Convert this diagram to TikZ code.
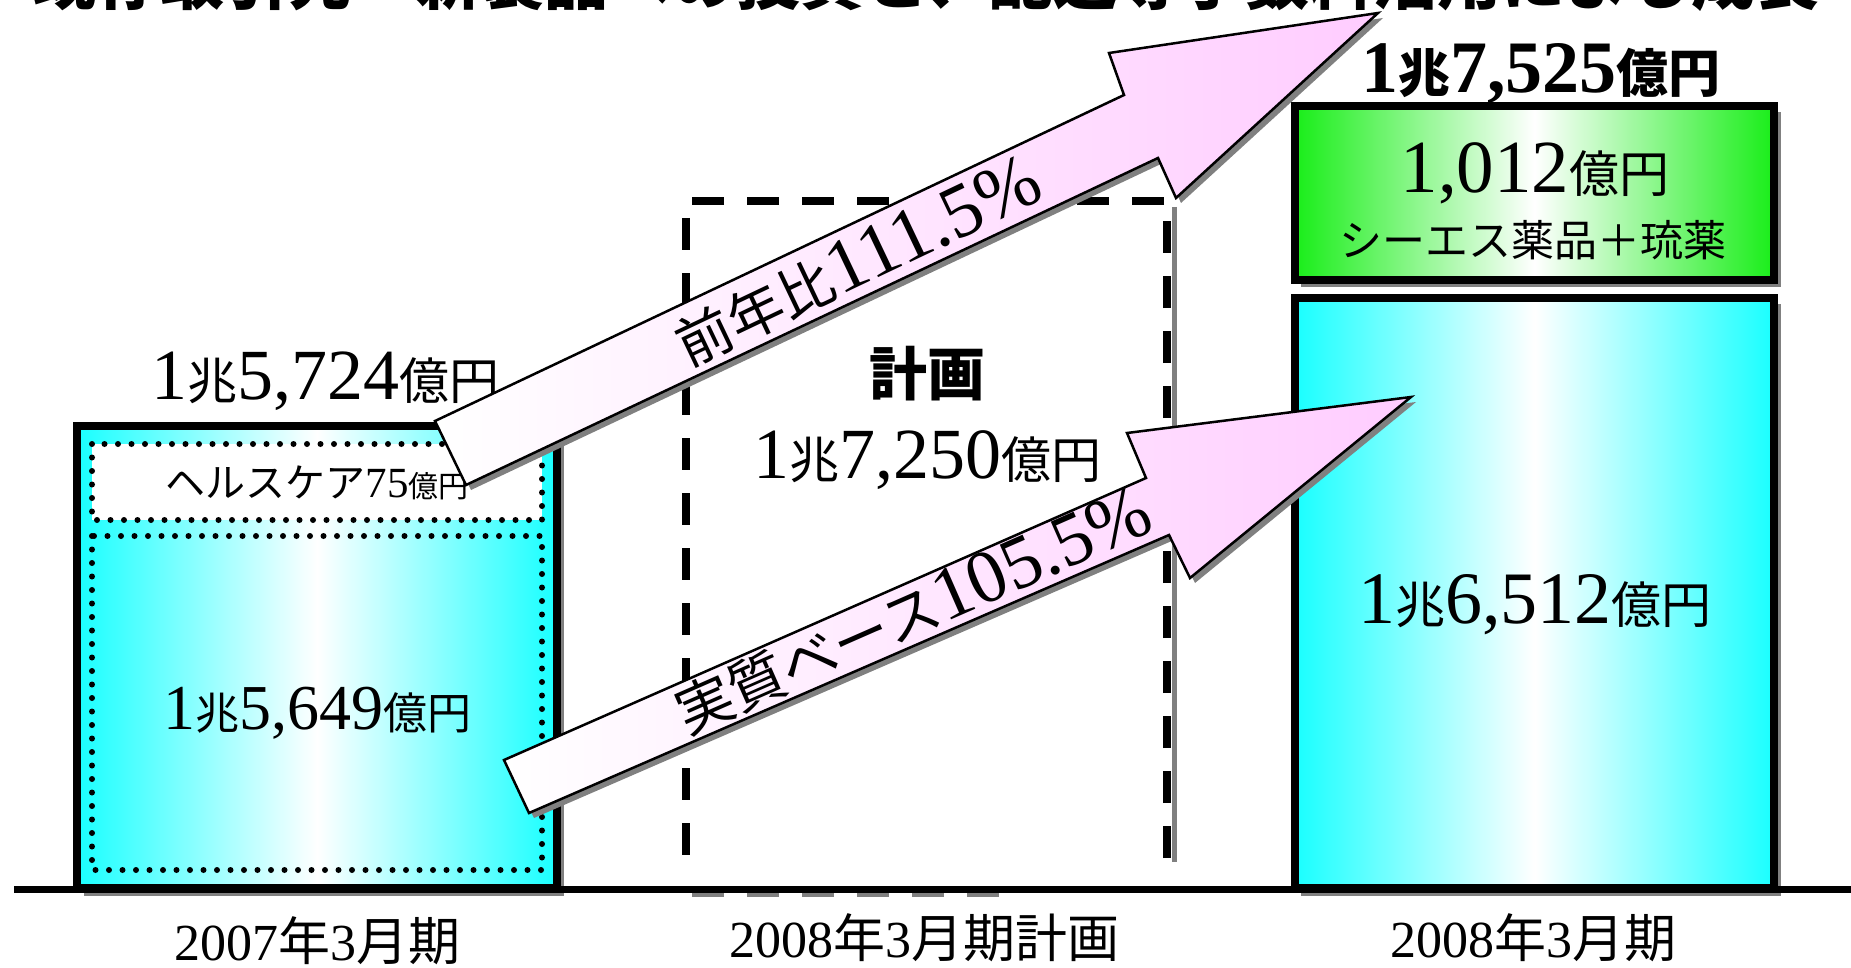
\documentclass[tikz,border=0pt]{standalone}
\usepackage{fontspec}
\setmainfont{Liberation Serif}
\newfontfamily\jp{Noto Sans CJK JP}
\definecolor{cyanA}{RGB}{25,255,255}
\definecolor{greenA}{RGB}{25,238,25}
\definecolor{pinkA}{RGB}{255,204,255}
\definecolor{shadowgray}{RGB}{128,128,128}
\newcommand\fs[1]{\fontsize{#1}{#1}\selectfont}
\newcommand\cj[2]{{\fontsize{#1}{#1}\selectfont\jp #2}}
\begin{document}
\begin{tikzpicture}[x=1pt,y=-1pt,
  lbl/.style={anchor=base,inner sep=0pt},
  barline/.style={draw=black,line width=8pt},
  shade/.style={fill=shadowgray,draw=none},
  cyanfill/.style={left color=cyanA,right color=cyanA,middle color=white},
  greenfill/.style={left color=greenA,right color=greenA,middle color=white},
  dots/.style={draw=black,line width=6pt,line cap=round,dash pattern=on 0pt off 13.5pt},
  planline/.style={draw=black,line width=8pt,dash pattern=on 32pt off 23pt},
  arrowbody/.style={draw=black,line width=2.5pt,line join=miter,left color=white,right color=pinkA},
  arrowtext/.style={anchor=center,inner sep=0pt}]
\useasboundingbox (0,0) rectangle (1851,968);

% title (cut off at the top edge)
\node[anchor=base west,inner sep=0pt,font={\jp\bfseries\fontsize{64}{64}\selectfont}] (title) at (32,5) {既存取引先・新製品への投資と、配送等手数料活用による成長};

% left bar 2007
\fill[shade] (84,433) rectangle (564,896);
\path[barline,cyanfill] (77,426) rectangle (557,888);
\path[dots,fill=white] (92,444) rectangle (542,520);
\path[dots] (92,536) rectangle (542,870);

% right bars 2008
\fill[shade] (1301,112) rectangle (1781,287);
\path[barline,greenfill] (1295,106) rectangle (1774,280);
\fill[shade] (1301,304) rectangle (1781,896);
\path[barline,cyanfill] (1295,298) rectangle (1774,888);

% plan box (dashed)
\draw[shadowgray,line width=5pt] (1174,207) -- (1174,862);
\draw[shadowgray,line width=5pt,dash pattern=on 32pt off 23pt] (692,894) -- (1010,894);
\path[planline] (1167,858) -- (1167,201) -- (686,201) -- (686,878);

% ground line
\draw[line width=7.5pt] (14,889.5) -- (1851,889.5);

% labels
\node[lbl] (v5724) at (325,399) {\fs{72}1\cj{50}{兆}5,724\cj{50}{億円}};
\node[lbl] (hc) at (317,497) {\cj{40}{ヘルスケア}\fs{43}75\cj{30}{億円}};
\node[lbl] (v5649) at (317,729) {\fs{64}1\cj{44}{兆}5,649\cj{44}{億円}};
\node[lbl,font={\jp\bfseries\fontsize{58}{58}\selectfont}] (plan) at (927,395) {計画};
\node[lbl] (v7250) at (927,478) {\fs{72}1\cj{50}{兆}7,250\cj{50}{億円}};
\node[lbl,font=\bfseries] (v7525) at (1541,93) {\fs{74}1\cj{52}{兆}7,525\cj{52}{億円}};
\node[lbl] (v1012) at (1535,193) {\fs{75}1,012\cj{50}{億円}};
\node[lbl] (cs) at (1533,256) {\cj{43}{シーエス薬品＋琉薬}};
\node[lbl] (v6512) at (1535,623) {\fs{74}1\cj{50}{兆}6,512\cj{50}{億円}};
\node[lbl] (y2007) at (317,960) {\fs{52}2007\cj{52}{年}3\cj{52}{月期}};
\node[lbl] (y2008p) at (924,957) {\fs{52}2008\cj{52}{年}3\cj{52}{月期計画}};
\node[lbl] (y2008) at (1533,957) {\fs{52}2008\cj{52}{年}3\cj{52}{月期}};

% upper arrow
\fill[shade,shift={(5,5)}] (435,421) -- (1124,95) -- (1109,53) -- (1378,13) -- (1176,198) -- (1158,158) -- (466,485) -- cycle;
\path[arrowbody] (435,421) -- (1124,95) -- (1109,53) -- (1378,13) -- (1176,198) -- (1158,158) -- (466,485) -- cycle;
\node[arrowtext,rotate=25.4] (yoy) at (858,262) {\cj{56}{前年比}\fs{76}111.5\%};

% lower arrow
\fill[shade,shift={(5,5)}] (504,760) -- (1146,478) -- (1127,433) -- (1411,397) -- (1190,578) -- (1169,535) -- (529,813) -- cycle;
\path[arrowbody] (504,760) -- (1146,478) -- (1127,433) -- (1411,397) -- (1190,578) -- (1169,535) -- (529,813) -- cycle;
\node[arrowtext,rotate=23.7] (real) at (913,612) {\cj{57}{実質ベース}\fs{75}105.5\%};
\end{tikzpicture}
\end{document}
